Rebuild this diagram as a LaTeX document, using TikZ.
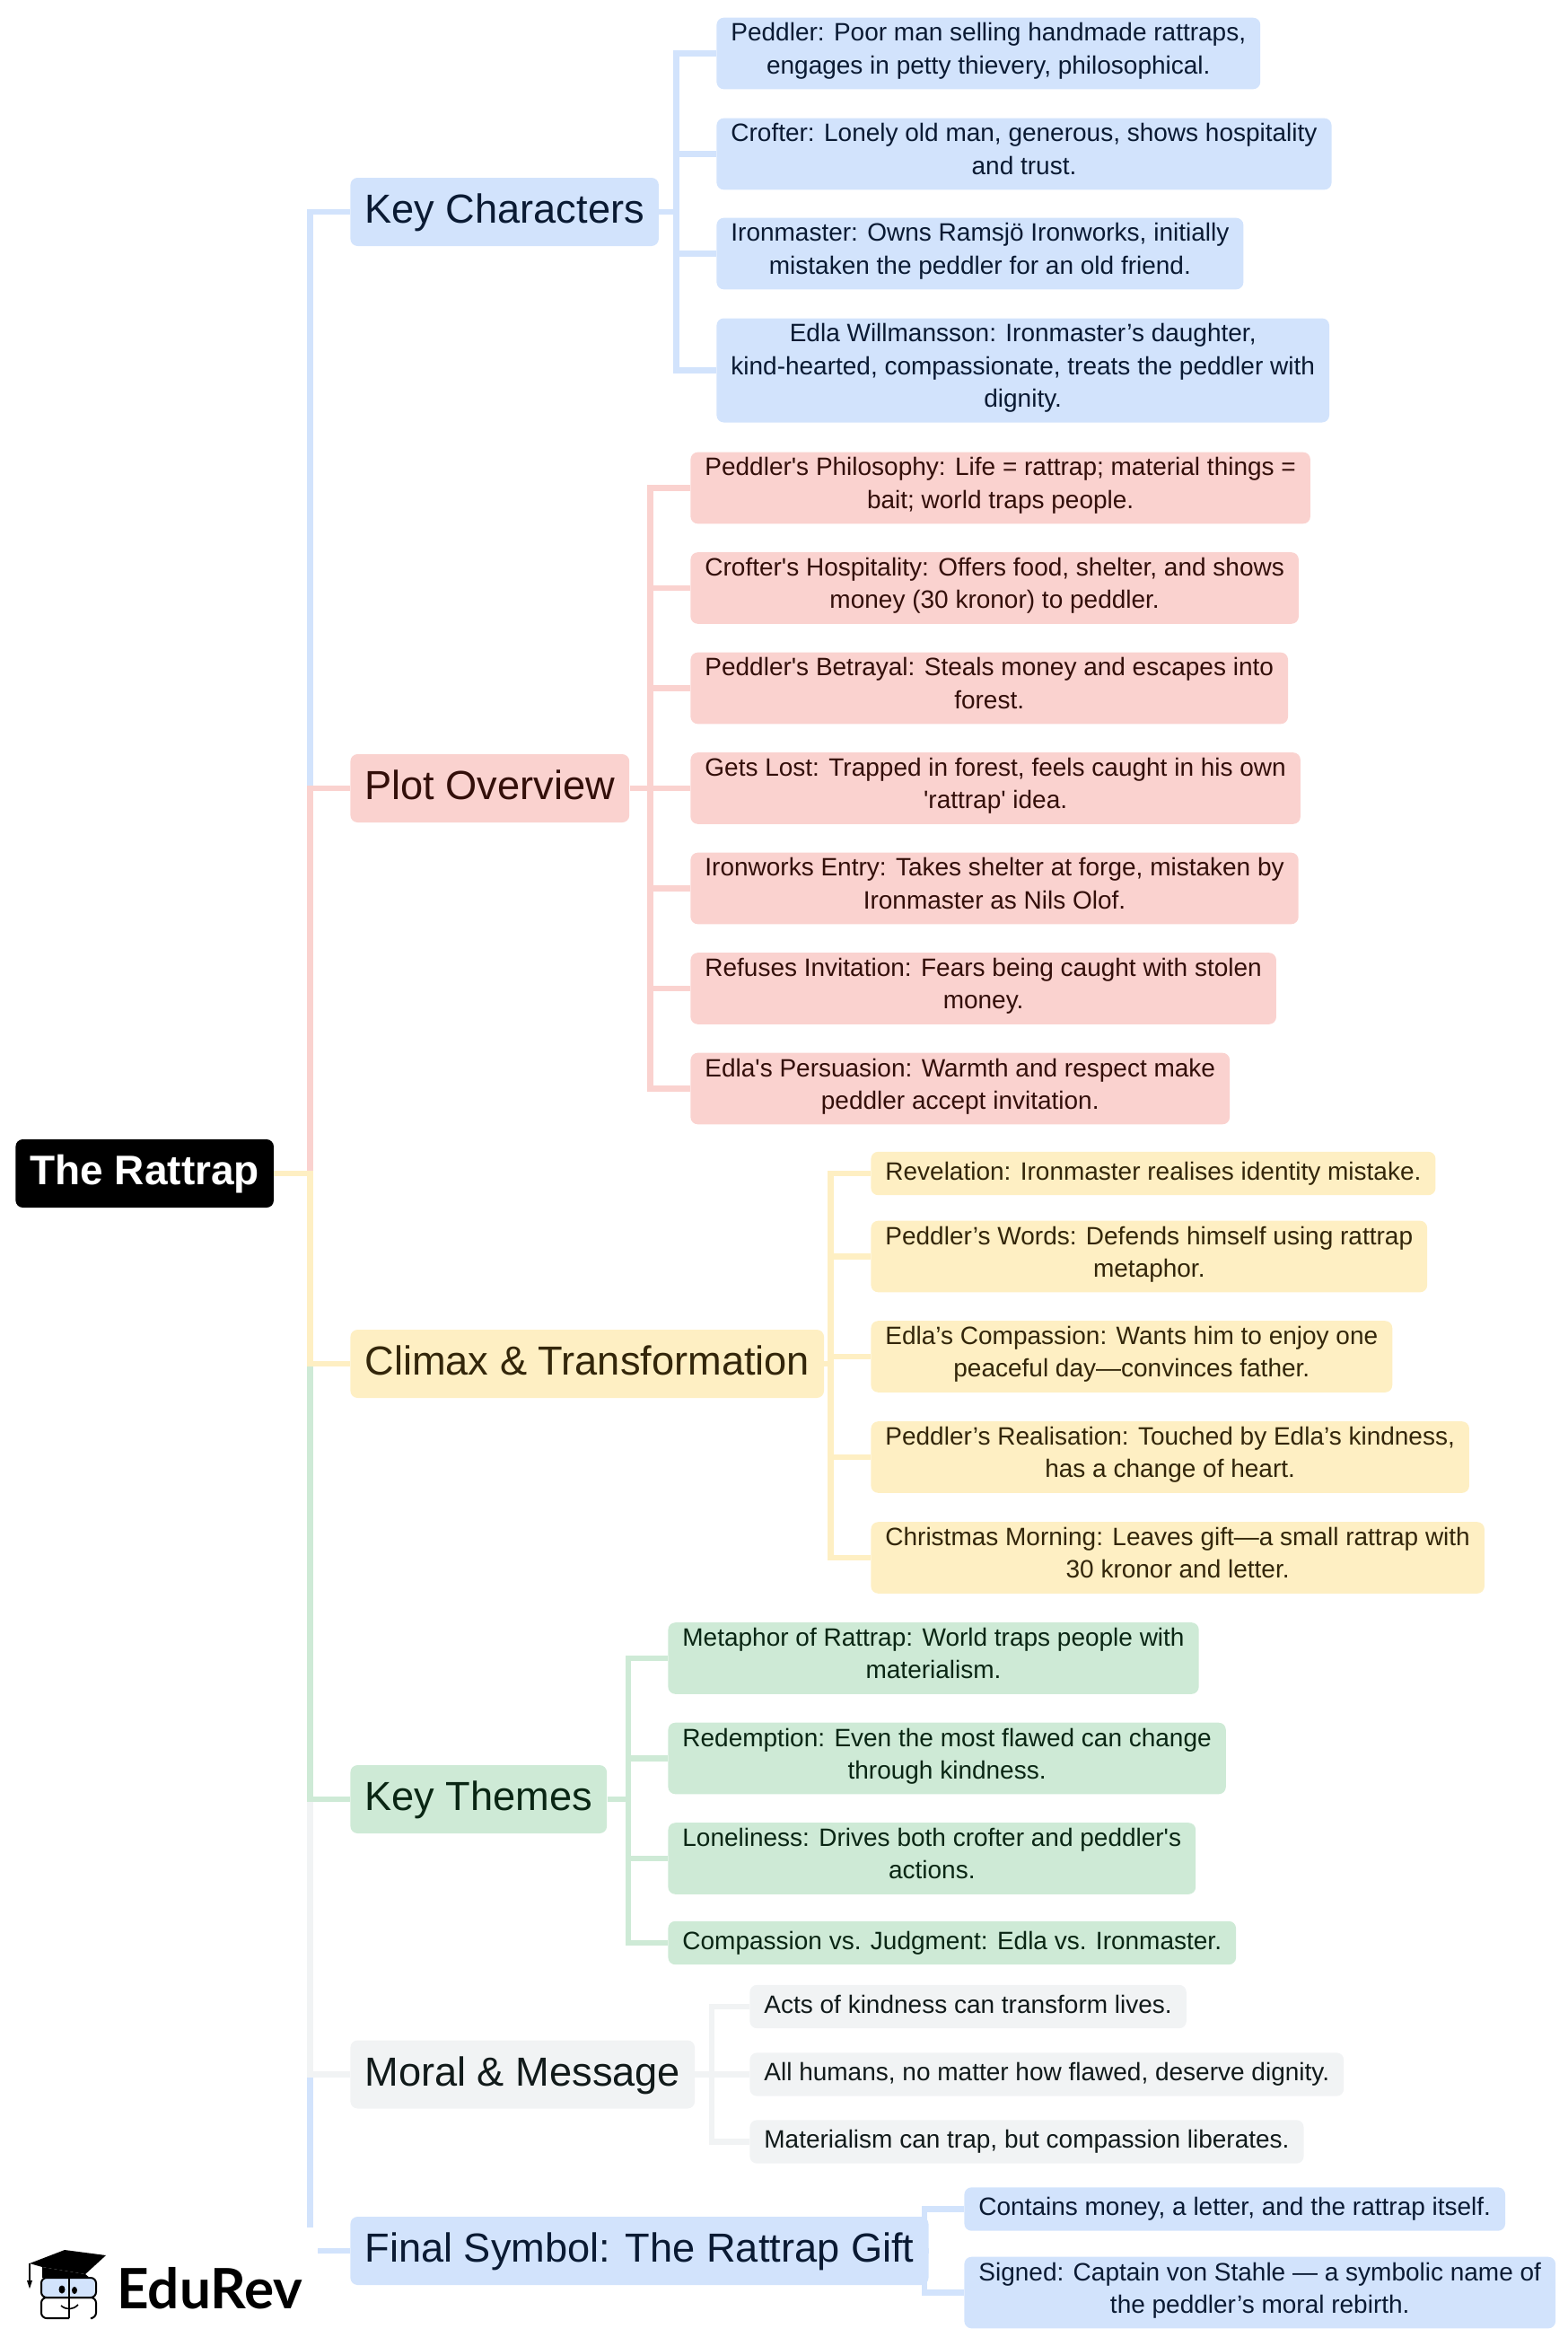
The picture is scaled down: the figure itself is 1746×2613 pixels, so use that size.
\documentclass[tikz,border=0pt]{standalone}
\usepackage{fontspec}
\usetikzlibrary{positioning}
\newfontfamily\mapfont{Liberation Sans}
\newfontfamily\logofont{Lato}
\definecolor{palblue}{HTML}{D2E3FC}
\definecolor{palbluetext}{HTML}{0A1A33}
\definecolor{palred}{HTML}{FAD2CF}
\definecolor{palredtext}{HTML}{330F0A}
\definecolor{palyellow}{HTML}{FEEFC3}
\definecolor{palyellowtext}{HTML}{33260A}
\definecolor{palgreen}{HTML}{CEEAD6}
\definecolor{palgreentext}{HTML}{0A2614}
\definecolor{palgrey}{HTML}{F1F3F4}
\definecolor{palgreytext}{HTML}{111A1A}
\tikzset{
	leaf/.style={anchor=west, fill=#1, text=#1text, rounded corners=4pt, align=center,
		inner xsep=8pt, inner ysep=3pt, font=\mapfont\fontsize{14}{18.2}\selectfont,
		execute at begin node=\strut, execute at end node=\strut},
	branch/.style={anchor=west, fill=#1, text=#1text, rounded corners=4pt,
		inner xsep=8pt, inner ysep=3pt, font=\mapfont\fontsize{22.6}{32}\selectfont,
		execute at begin node=\strut},
	wire/.style={draw=#1, line width=3.25pt}
}
\begin{document}
\begin{tikzpicture}[x=0.5pt, y=-0.5pt]
	\useasboundingbox (0,0) rectangle (1746,2613);

	% Draw the root and the branches
	\node[anchor=west, fill=black, text=white, rounded corners=4pt, inner xsep=8pt, inner ysep=3pt,
		font=\mapfont\bfseries\fontsize{23}{32}\selectfont, execute at begin node=\strut] (root) at (17,1307) {The Rattrap};
	\node[branch=palblue] (kc) at (390,236) {Key Characters};
	\node[branch=palred] (po) at (390,878) {Plot Overview};
	\node[branch=palyellow] (ct) at (390,1519) {Climax \& Transformation};
	\node[branch=palgreen] (kt) at (390,2004) {Key Themes};
	\node[branch=palgrey] (mm) at (390,2310.5) {Moral \& Message};
	\node[branch=palblue] (fs) at (390,2507) {Final Symbol: The Rattrap Gift};

	% Draw the leaves of each branch
	\node[leaf=palblue] (kc1) at (798,59.5) {Peddler: Poor man selling handmade rattraps,\\engages in petty thievery, philosophical.};
	\node[leaf=palblue] (kc2) at (798,171.5) {Crofter: Lonely old man, generous, shows hospitality\\and trust.};
	\node[leaf=palblue] (kc3) at (798,282.5) {Ironmaster: Owns Ramsjö Ironworks, initially\\mistaken the peddler for an old friend.};
	\node[leaf=palblue] (kc4) at (798,412.5) {Edla Willmansson: Ironmaster’s daughter,\\kind-hearted, compassionate, treats the peddler with\\dignity.};

	\node[leaf=palred] (po1) at (769,543.5) {Peddler's Philosophy: Life = rattrap; material things =\\bait; world traps people.};
	\node[leaf=palred] (po2) at (769,655) {Crofter's Hospitality: Offers food, shelter, and shows\\money (30 kronor) to peddler.};
	\node[leaf=palred] (po3) at (769,766.5) {Peddler's Betrayal: Steals money and escapes into\\forest.};
	\node[leaf=palred] (po4) at (769,878) {Gets Lost: Trapped in forest, feels caught in his own\\'rattrap' idea.};
	\node[leaf=palred] (po5) at (769,989.5) {Ironworks Entry: Takes shelter at forge, mistaken by\\Ironmaster as Nils Olof.};
	\node[leaf=palred] (po6) at (769,1101) {Refuses Invitation: Fears being caught with stolen\\money.};
	\node[leaf=palred] (po7) at (769,1212.5) {Edla's Persuasion: Warmth and respect make\\peddler accept invitation.};

	\node[leaf=palyellow] (ct1) at (970,1307) {Revelation: Ironmaster realises identity mistake.};
	\node[leaf=palyellow] (ct2) at (970,1399.5) {Peddler’s Words: Defends himself using rattrap\\metaphor.};
	\node[leaf=palyellow] (ct3) at (970,1511) {Edla’s Compassion: Wants him to enjoy one\\peaceful day—convinces father.};
	\node[leaf=palyellow] (ct4) at (970,1623) {Peddler’s Realisation: Touched by Edla’s kindness,\\has a change of heart.};
	\node[leaf=palyellow] (ct5) at (970,1735) {Christmas Morning: Leaves gift—a small rattrap with\\30 kronor and letter.};

	\node[leaf=palgreen] (kt1) at (744,1847) {Metaphor of Rattrap: World traps people with\\materialism.};
	\node[leaf=palgreen] (kt2) at (744,1958.5) {Redemption: Even the most flawed can change\\through kindness.};
	\node[leaf=palgreen] (kt3) at (744,2070) {Loneliness: Drives both crofter and peddler's\\actions.};
	\node[leaf=palgreen] (kt4) at (744,2164) {Compassion vs. Judgment: Edla vs. Ironmaster.};

	\node[leaf=palgrey] (mm1) at (835,2235) {Acts of kindness can transform lives.};
	\node[leaf=palgrey] (mm2) at (835,2310.5) {All humans, no matter how flawed, deserve dignity.};
	\node[leaf=palgrey] (mm3) at (835,2385.5) {Materialism can trap, but compassion liberates.};

	\node[leaf=palblue] (fs1) at (1074,2460.5) {Contains money, a letter, and the rattrap itself.};
	\node[leaf=palblue] (fs2) at (1074,2553.5) {Signed: Captain von Stahle — a symbolic name of\\the peddler’s moral rebirth.};

	% Draw the trunk, upper branches first, then from the bottom upwards
	\coordinate (trunk) at (345.5,1307);
	\draw[wire=palblue] (root.east) -- (trunk) |- (kc.west);
	\draw[wire=palred] (root.east) -- (trunk) |- (po.west);
	\draw[wire=palblue] (root.east) -- (trunk) |- (fs.west);
	\draw[wire=palgrey] (root.east) -- (trunk) |- (mm.west);
	\draw[wire=palgreen] (root.east) -- (trunk) |- (kt.west);
	\draw[wire=palyellow] (root.east) -- (trunk) |- (ct.west);

	% Draw the buses to the leaves
	\coordinate (kcbus) at (753.5,236);
	\coordinate (pobus) at (724.5,878);
	\coordinate (ctbus) at (925.5,1519);
	\coordinate (ktbus) at (700,2004);
	\coordinate (mmbus) at (793,2310.5);
	\coordinate (fsbus) at (1030,2507);
	\draw[wire=palblue] (kc.east) -- (kcbus) |- (kc1.west) (kcbus) |- (kc2.west) (kcbus) |- (kc3.west) (kcbus) |- (kc4.west);
	\draw[wire=palred] (po.east) -- (pobus) |- (po1.west) (pobus) |- (po2.west) (pobus) |- (po3.west) (pobus) -- (po4.west)
		(pobus) |- (po5.west) (pobus) |- (po6.west) (pobus) |- (po7.west);
	\draw[wire=palyellow] (ct.east) -- (ctbus) |- (ct1.west) (ctbus) |- (ct2.west) (ctbus) |- (ct3.west) (ctbus) |- (ct4.west) (ctbus) |- (ct5.west);
	\draw[wire=palgreen] (kt.east) -- (ktbus) |- (kt1.west) (ktbus) |- (kt2.west) (ktbus) |- (kt3.west) (ktbus) |- (kt4.west);
	\draw[wire=palgrey] (mm.east) -- (mmbus) |- (mm1.west) (mmbus) -- (mm2.west) (mmbus) |- (mm3.west);
	\draw[wire=palblue] (fs.east) -- (fsbus) |- (fs1.west) (fsbus) |- (fs2.west);

	% Draw the logo on its white patch
	\fill[white] (0,2481) rectangle (354,2613);
	\fill[black] (33,2521) -- (72,2506) -- (118,2512) -- (95,2533) -- (47,2525) -- cycle;
	\fill[black] (47,2525) -- (95,2533) -- (100,2537) -- (47,2537) -- cycle;
	\draw[black, line width=0.6pt] (33,2521) -- (33,2540);
	\fill[black] (30,2540) -- (36,2540) -- (33,2549) -- cycle;
	\draw[black, line width=1pt, fill=palblue, rounded corners=3pt] (46,2537) rectangle (107,2559);
	\draw[black, line width=1pt, rounded corners=3pt] (77,2559) -- (46,2559) -- (46,2582) -- (77,2582) (77,2559) -- (107,2559) -- (107,2582) -- (103,2582);
	\draw[black, line width=1pt] (77,2535) -- (77,2582);
	\fill[black] (69,2550) circle[x radius=3.5, y radius=4.5];
	\fill[black] (83,2551) circle[x radius=3, y radius=4];
	\draw[black, line width=0.8pt] (68,2568) .. controls (74,2573) and (81,2573) .. (87,2567);
	\node[anchor=base west, inner sep=0pt, text=black, font=\logofont\bfseries\fontsize{31}{36}\selectfont] (logo) at (130,2571) {EduRev};
\end{tikzpicture}
\end{document}
